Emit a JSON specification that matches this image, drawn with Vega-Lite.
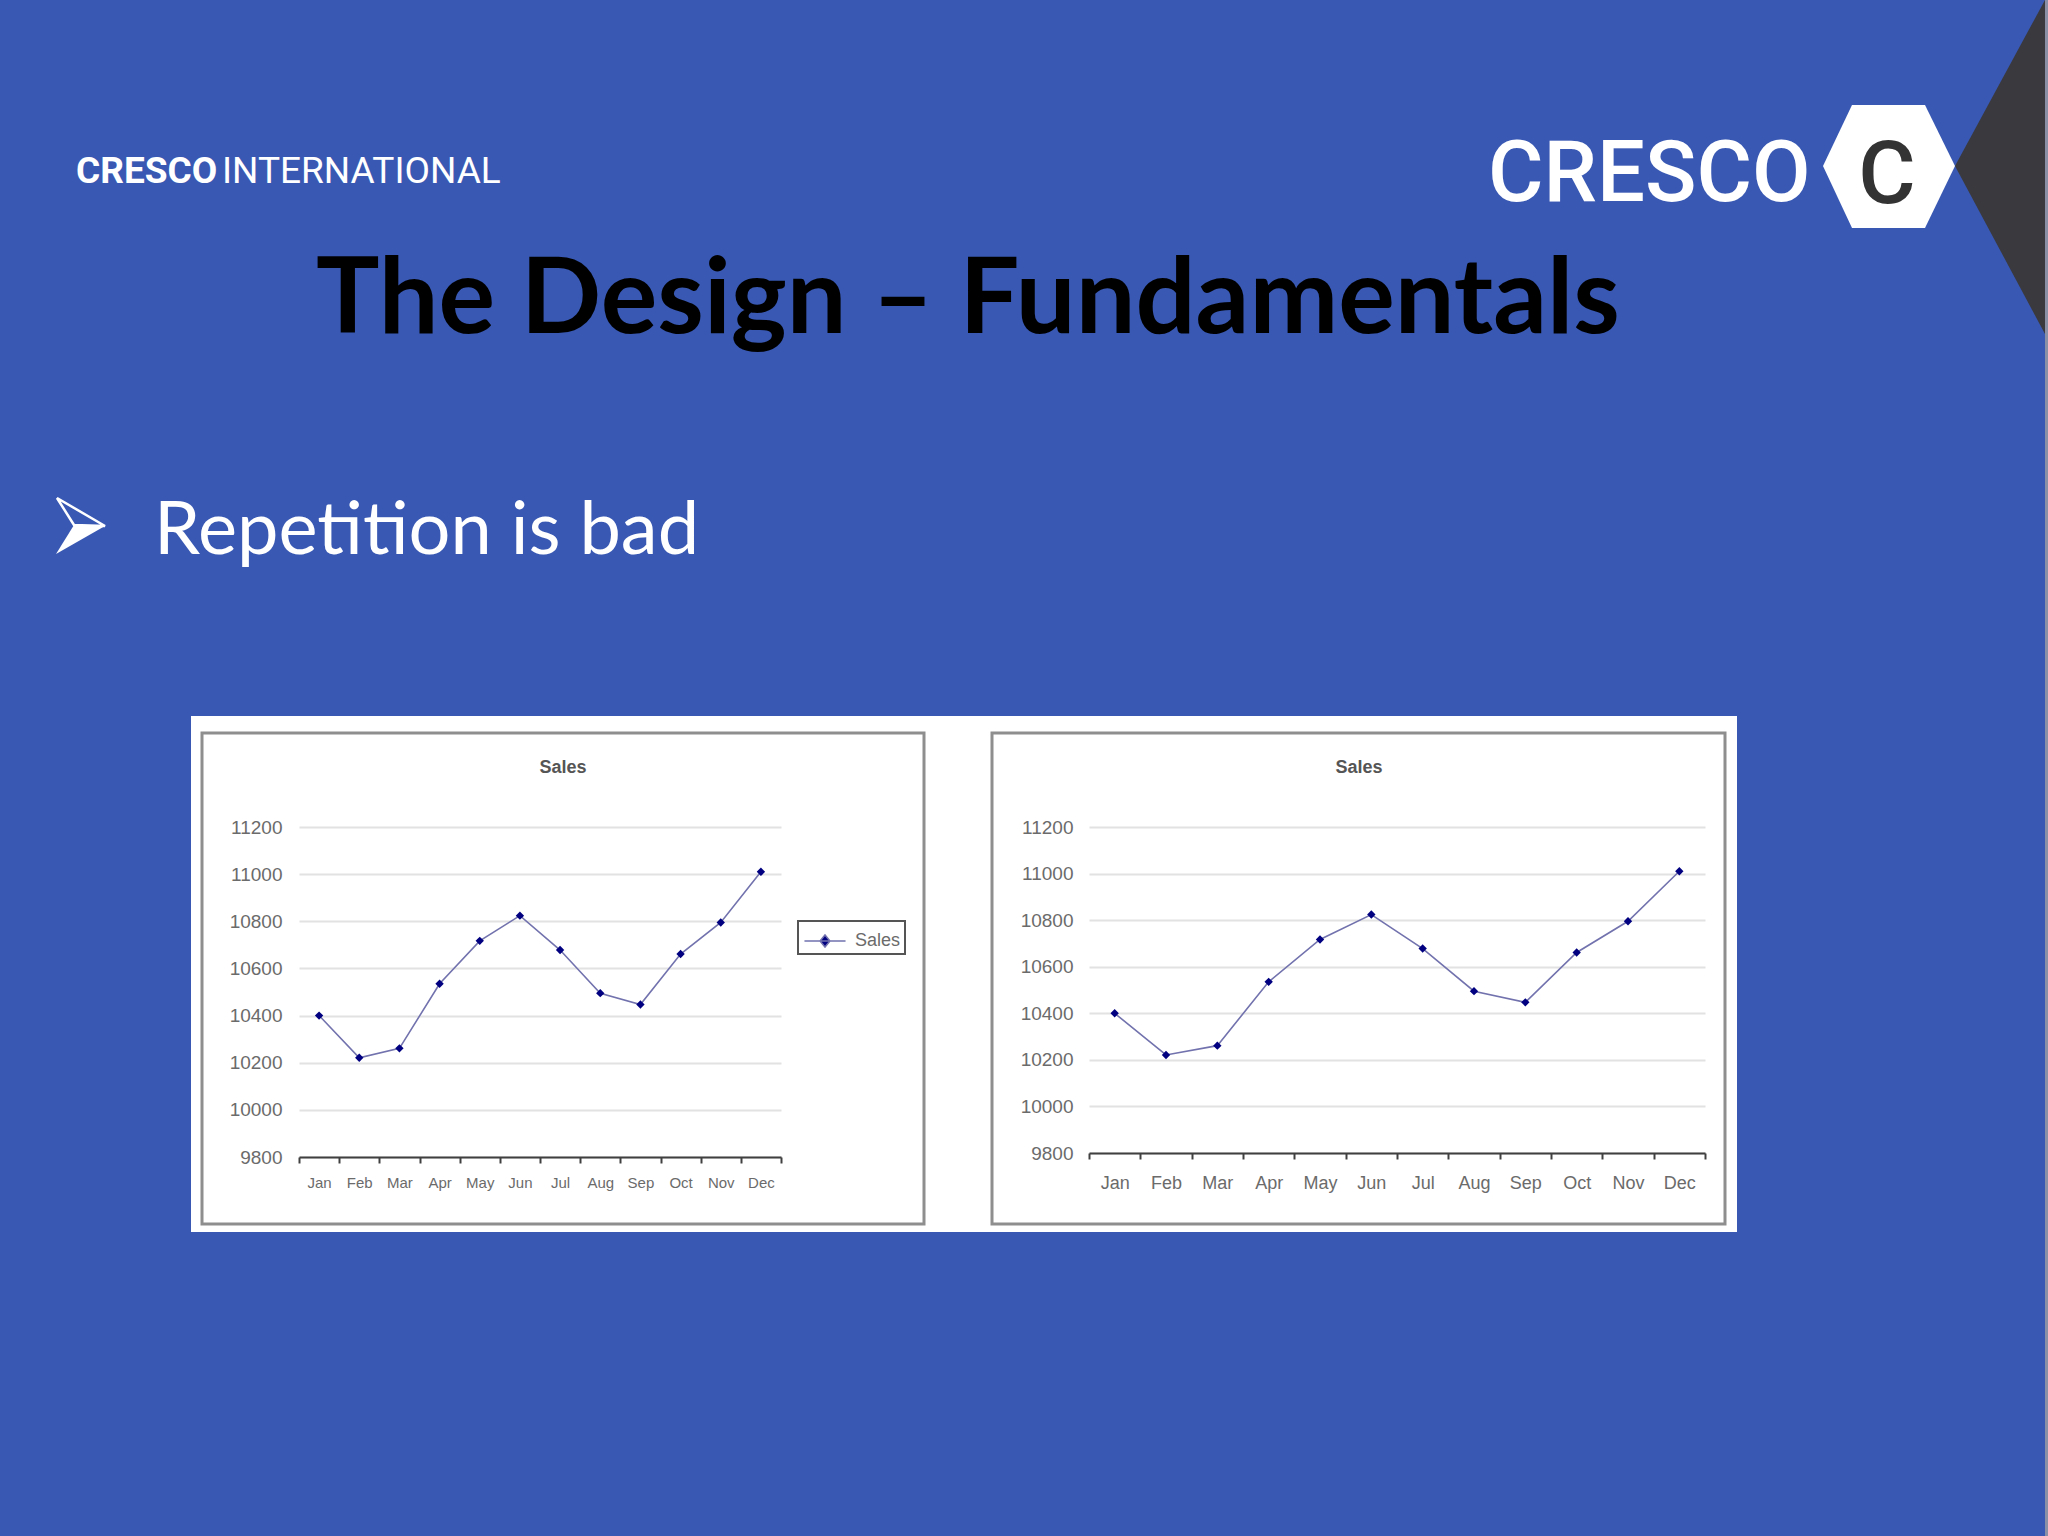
{
  "$schema": "https://vega.github.io/schema/vega-lite/v6.json",
  "background": "#3858B3",
  "padding": 0,
  "bounds": "flush",
  "spacing": 298,
  "config": {"view": {"stroke": null}, "font": "Liberation Sans"},
  "datasets": {
    "sales": [
      {"month": "Jan", "sales": 10400},
      {"month": "Feb", "sales": 10221},
      {"month": "Mar", "sales": 10261},
      {"month": "Apr", "sales": 10535},
      {"month": "May", "sales": 10717},
      {"month": "Jun", "sales": 10824},
      {"month": "Jul", "sales": 10678},
      {"month": "Aug", "sales": 10495},
      {"month": "Sep", "sales": 10447},
      {"month": "Oct", "sales": 10661},
      {"month": "Nov", "sales": 10795},
      {"month": "Dec", "sales": 11010}
    ]
  },
  "hconcat": [
    {
      "width": 1,
      "height": 1,
      "layer": [
        {"data": {"values": [{"part": "slide"}]}, "mark": {"type": "rect", "fill": "#3858B3"},
         "encoding": {"x": {"value": 0}, "x2": {"value": 2048}, "y": {"value": -827}, "y2": {"value": 709}}},
        {"data": {"values": [{"part": "edge"}]}, "mark": {"type": "rect", "fill": "#8a90a6"},
         "encoding": {"x": {"value": 2045}, "x2": {"value": 2048}, "y": {"value": -827}, "y2": {"value": 709}}},
        {"data": {"values": [{"part": "corner"}]}, "mark": {"type": "point", "shape": "M0,0L-90,166L0,334Z", "size": 4, "filled": true, "fill": "#3a393d", "strokeWidth": 0, "opacity": 1},
         "encoding": {"x": {"value": 2045}, "y": {"value": -827}}},
        {"data": {"values": [{"part": "hexagon"}]}, "mark": {"type": "point", "shape": "M-66,0L-37,-61L36,-61L66,0L36,62L-37,62Z", "size": 4, "filled": true, "fill": "#ffffff", "strokeWidth": 0, "opacity": 1},
         "encoding": {"x": {"value": 1889}, "y": {"value": -661}}},
        {"data": {"values": [{"part": "panel"}]}, "mark": {"type": "rect", "fill": "#ffffff"},
         "encoding": {"x": {"value": 191}, "x2": {"value": 1737}, "y": {"value": -111}, "y2": {"value": 405}}},
        {"data": {"values": [{"part": "frame left"}]}, "mark": {"type": "rect", "fill": "#ffffff", "stroke": "#8e8e8e", "strokeWidth": 3},
         "encoding": {"x": {"value": 202}, "x2": {"value": 924}, "y": {"value": -94}, "y2": {"value": 397}}},
        {"data": {"values": [{"part": "frame right"}]}, "mark": {"type": "rect", "fill": "#ffffff", "stroke": "#8e8e8e", "strokeWidth": 3},
         "encoding": {"x": {"value": 992}, "x2": {"value": 1725}, "y": {"value": -94}, "y2": {"value": 397}}},
        {"data": {"values": [{"t": "CRESCO"}]}, "mark": {"type": "text", "align": "left", "baseline": "alphabetic", "font": "Roboto", "fontWeight": "bold", "fontSize": 37, "color": "#ffffff"},
         "encoding": {"text": {"field": "t"}, "x": {"value": 76}, "y": {"value": -644}}},
        {"data": {"values": [{"t": "INTERNATIONAL"}]}, "mark": {"type": "text", "align": "left", "baseline": "alphabetic", "font": "Roboto", "fontWeight": "normal", "fontSize": 37, "color": "#ffffff"},
         "encoding": {"text": {"field": "t"}, "x": {"value": 222}, "y": {"value": -644}}},
        {"data": {"values": [{"t": "CRESCO"}]}, "mark": {"type": "text", "align": "left", "baseline": "alphabetic", "font": "Roboto", "fontWeight": 500, "fontSize": 85, "color": "#ffffff"},
         "encoding": {"text": {"field": "t"}, "x": {"value": 1488}, "y": {"value": -626}}},
        {"data": {"values": [{"t": "C"}]}, "mark": {"type": "text", "align": "center", "baseline": "alphabetic", "font": "Roboto", "fontWeight": 500, "fontSize": 88, "color": "#333333"},
         "encoding": {"text": {"field": "t"}, "x": {"value": 1887}, "y": {"value": -624}}},
        {"data": {"values": [{"t": "The Design – Fundamentals"}]}, "mark": {"type": "text", "align": "left", "baseline": "alphabetic", "font": "Lato", "fontWeight": "bold", "fontSize": 106, "color": "#000000"},
         "encoding": {"text": {"field": "t"}, "x": {"value": 316}, "y": {"value": -494}}},
        {"data": {"values": [{"part": "bullet lower"}]}, "mark": {"type": "point", "shape": "M0,0L31,1L-18,29Z", "size": 4, "filled": true, "fill": "#ffffff", "strokeWidth": 0, "opacity": 1},
         "encoding": {"x": {"value": 74}, "y": {"value": -302}}},
        {"data": {"values": [{"part": "bullet upper"}]}, "mark": {"type": "point", "shape": "M0,0L-17,-27L31,1Z", "size": 4, "filled": false, "fill": null, "stroke": "#ffffff", "strokeWidth": 2.5, "strokeJoin": "miter", "opacity": 1},
         "encoding": {"x": {"value": 74}, "y": {"value": -302}}},
        {"data": {"values": [{"t": "Repetition is bad"}]}, "mark": {"type": "text", "align": "left", "baseline": "alphabetic", "font": "Lato", "fontWeight": "normal", "fontSize": 74, "color": "#ffffff"},
         "encoding": {"text": {"field": "t"}, "x": {"value": 154}, "y": {"value": -273}}}
      ]
    },
    {
      "bounds": "flush",
      "spacing": 308,
      "hconcat": [
        {
          "width": 482,
          "height": 330,
          "data": {"name": "sales"},
          "title": {"text": "Sales", "fontSize": 18, "fontWeight": "bold", "color": "#555555", "font": "Liberation Sans", "frame": "group", "anchor": "middle", "dx": 23, "offset": 41},
          "encoding": {
            "x": {"field": "month", "type": "ordinal", "sort": null, "bandPosition": 0.5,
                  "scale": {"type": "band", "paddingInner": 0, "paddingOuter": 0},
                  "axis": {"title": null, "labelAngle": 0, "domainColor": "#404040", "domainWidth": 2, "tickColor": "#404040", "tickWidth": 2, "tickSize": 6, "tickBand": "extent", "labelFontSize": 15, "labelColor": "#6b6b6b", "labelPadding": 12, "grid": false}},
            "y": {"field": "sales", "type": "quantitative",
                  "scale": {"domain": [9800, 11200], "nice": false, "zero": false},
                  "axis": {"title": null, "format": "d", "values": [9800, 10000, 10200, 10400, 10600, 10800, 11000, 11200], "grid": true, "gridColor": "#e2e2e2", "gridWidth": 2, "domain": false, "ticks": false, "labelFontSize": 19, "labelColor": "#6b6b6b", "labelPadding": 17}}
          },
          "layer": [
            {"mark": {"type": "line", "strokeWidth": 1.6},
             "encoding": {"color": {"datum": "Sales", "scale": {"range": ["#7272ae"]},
               "legend": {"title": null, "orient": "none", "legendX": 798, "legendY": 94, "strokeColor": "#555555", "fillColor": "#ffffff", "padding": 4,
                          "symbolType": "M-1.37,0H1.37M-0.33,0L0,-0.4L0.33,0L0,0.4Z", "symbolSize": 900, "symbolOffset": 7, "symbolStrokeWidth": 1.5, "symbolStrokeColor": "#000080", "symbolFillColor": "#000080",
                          "labelFontSize": 18, "labelColor": "#6b6b6b", "labelFont": "Liberation Sans", "labelOffset": 14,
                          "encode": {"legend": {"update": {"strokeWidth": {"value": 2}}}, "symbols": {"update": {"fill": {"value": "#000080"}, "stroke": {"value": "#000080"}}}}}}}},
            {"mark": {"type": "point", "shape": "diamond", "filled": true, "size": 70, "color": "#000080", "opacity": 1}}
          ]
        },
        {
          "width": 616,
          "height": 326,
          "data": {"name": "sales"},
          "title": {"text": "Sales", "fontSize": 18, "fontWeight": "bold", "color": "#555555", "font": "Liberation Sans", "frame": "group", "anchor": "middle", "dx": -38, "offset": 41},
          "encoding": {
            "x": {"field": "month", "type": "ordinal", "sort": null, "bandPosition": 0.5,
                  "scale": {"type": "band", "paddingInner": 0, "paddingOuter": 0},
                  "axis": {"title": null, "labelAngle": 0, "domainColor": "#404040", "domainWidth": 2, "tickColor": "#404040", "tickWidth": 2, "tickSize": 6, "tickBand": "extent", "labelFontSize": 18, "labelColor": "#6b6b6b", "labelPadding": 15, "grid": false}},
            "y": {"field": "sales", "type": "quantitative",
                  "scale": {"domain": [9800, 11200], "nice": false, "zero": false},
                  "axis": {"title": null, "format": "d", "values": [9800, 10000, 10200, 10400, 10600, 10800, 11000, 11200], "grid": true, "gridColor": "#e2e2e2", "gridWidth": 2, "domain": false, "ticks": false, "labelFontSize": 19, "labelColor": "#6b6b6b", "labelPadding": 16}}
          },
          "layer": [
            {"mark": {"type": "line", "strokeWidth": 1.6, "color": "#7272ae"}},
            {"mark": {"type": "point", "shape": "diamond", "filled": true, "size": 70, "color": "#000080", "opacity": 1}}
          ]
        }
      ]
    }
  ]
}
